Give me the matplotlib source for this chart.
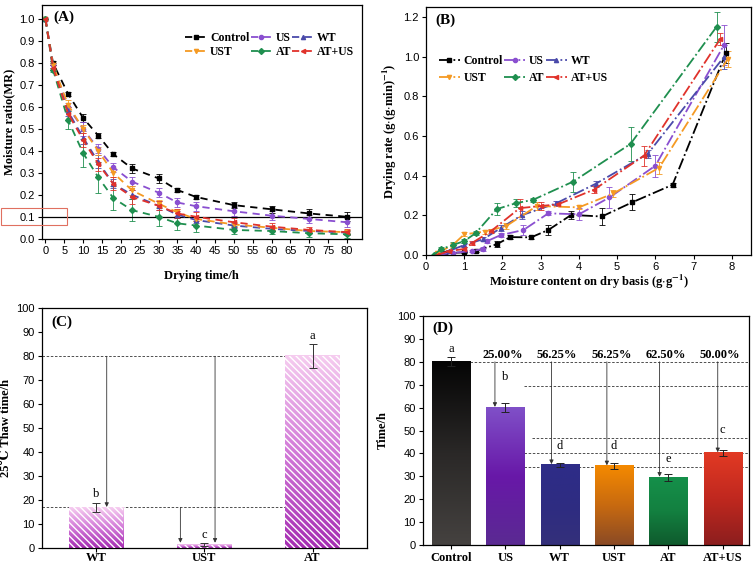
import numpy as np
import matplotlib.pyplot as plt
from matplotlib.colors import LinearSegmentedColormap
from matplotlib.patches import Rectangle

plt.rcParams['font.family'] = ['Liberation Serif', 'DejaVu Serif']
plt.rcParams['mathtext.fontset'] = 'stix'
plt.rcParams['hatch.linewidth'] = 1.0

names = ['Control', 'US', 'WT', 'UST', 'AT', 'AT+US']
colors = ['#000000', '#8a4fd0', '#4a4aaa', '#f59a23', '#1f8f4f', '#e0322b']
markers = ['s', 'o', '^', 'v', 'D', '<']

# --- (A) moisture ratio vs drying time ---
t = [0, 2, 6, 10, 14, 18, 23, 30, 35, 40, 50, 60, 70, 80]
mr = {
    'Control': [1.0, 0.80, 0.66, 0.55, 0.47, 0.385, 0.32, 0.275, 0.222, 0.19, 0.153, 0.134, 0.115, 0.10],
    'US':      [1.0, 0.79, 0.60, 0.50, 0.41, 0.325, 0.26, 0.21, 0.165, 0.148, 0.125, 0.105, 0.09, 0.075],
    'WT':      [1.0, 0.78, 0.58, 0.46, 0.35, 0.25, 0.20, 0.15, 0.11, 0.085, 0.06, 0.045, 0.035, 0.028],
    'UST':     [1.0, 0.79, 0.61, 0.50, 0.40, 0.30, 0.22, 0.16, 0.12, 0.09, 0.065, 0.05, 0.035, 0.03],
    'AT':      [1.0, 0.77, 0.54, 0.39, 0.28, 0.185, 0.13, 0.10, 0.07, 0.06, 0.04, 0.035, 0.025, 0.02],
    'AT+US':   [1.0, 0.78, 0.57, 0.45, 0.34, 0.25, 0.19, 0.15, 0.115, 0.10, 0.075, 0.055, 0.04, 0.03],
}
mr_err = {
    'Control': [0, 0.01, 0.01, 0.02, 0.01, 0.01, 0.02, 0.02, 0.01, 0.01, 0.015, 0.015, 0.02, 0.02],
    'US':      [0, 0.01, 0.02, 0.03, 0.02, 0.02, 0.02, 0.02, 0.02, 0.02, 0.02, 0.02, 0.02, 0.02],
    'WT':      [0, 0.01, 0.02, 0.03, 0.03, 0.02, 0.02, 0.02, 0.015, 0.015, 0.01, 0.01, 0.01, 0.01],
    'UST':     [0, 0.01, 0.02, 0.02, 0.02, 0.02, 0.02, 0.015, 0.015, 0.01, 0.01, 0.01, 0.01, 0.01],
    'AT':      [0, 0.01, 0.04, 0.065, 0.07, 0.055, 0.05, 0.04, 0.03, 0.03, 0.02, 0.015, 0.015, 0.015],
    'AT+US':   [0, 0.01, 0.03, 0.03, 0.03, 0.03, 0.03, 0.02, 0.02, 0.02, 0.02, 0.015, 0.015, 0.015],
}

# --- (B) drying rate vs moisture content ---
mc = {
    'Control': [0.3, 0.5, 1.0, 1.3, 1.85, 2.2, 2.75, 3.2, 3.8, 4.6, 5.4, 6.45, 7.85],
    'US':      [0.3, 0.7, 1.2, 1.5, 1.6, 1.95, 2.55, 3.2, 4.0, 4.8, 6.0, 7.8],
    'WT':      [0.2, 0.6, 1.0, 1.5, 1.95, 2.5, 3.4, 4.45, 5.8, 7.8],
    'UST':     [0.3, 0.7, 1.0, 1.55, 2.1, 2.9, 4.0, 4.9, 6.1, 7.9],
    'AT':      [0.2, 0.4, 0.7, 1.0, 1.3, 1.85, 2.35, 2.8, 3.85, 5.35, 7.6],
    'AT+US':   [0.3, 0.6, 1.0, 1.2, 1.7, 2.45, 3.0, 3.45, 4.4, 5.7, 7.7],
}
dr = {
    'Control': [0.0, 0.01, 0.013, 0.02, 0.054, 0.09, 0.089, 0.126, 0.202, 0.194, 0.266, 0.354, 1.02],
    'US':      [0.0, 0.01, 0.02, 0.03, 0.07, 0.10, 0.126, 0.21, 0.205, 0.29, 0.45, 1.06],
    'WT':      [0.0, 0.02, 0.05, 0.08, 0.135, 0.20, 0.26, 0.36, 0.51, 1.0],
    'UST':     [0.01, 0.05, 0.104, 0.118, 0.146, 0.247, 0.24, 0.31, 0.44, 0.99],
    'AT':      [0.0, 0.03, 0.05, 0.07, 0.11, 0.231, 0.261, 0.278, 0.37, 0.56, 1.15],
    'AT+US':   [0.0, 0.02, 0.03, 0.06, 0.12, 0.236, 0.247, 0.255, 0.33, 0.50, 1.09],
}
dr_err = {
    'Control': [0, 0, 0.005, 0.005, 0.015, 0.01, 0.008, 0.025, 0.02, 0.045, 0.04, 0.01, 0.05],
    'US':      [0, 0, 0.005, 0.01, 0.01, 0.01, 0.025, 0.01, 0.03, 0.055, 0.055, 0.1],
    'WT':      [0, 0.005, 0.01, 0.01, 0.015, 0.02, 0.01, 0.015, 0.02, 0.06],
    'UST':     [0, 0.01, 0.01, 0.01, 0.015, 0.02, 0.01, 0.02, 0.03, 0.04],
    'AT':      [0, 0.01, 0.015, 0.01, 0.01, 0.03, 0.02, 0.01, 0.05, 0.085, 0.075],
    'AT+US':   [0, 0.005, 0.01, 0.01, 0.01, 0.045, 0.02, 0.01, 0.02, 0.05, 0.03],
}

# --- (C) thaw time ---
c_cats = ['WT', 'UST', 'AT']
c_vals = [17, 1.5, 80]
c_err = [2, 0.7, 5]
c_letters = ['b', 'c', 'a']

# --- (D) drying time ---
d_cats = ['Control', 'US', 'WT', 'UST', 'AT', 'AT+US']
d_vals = [80, 60, 35, 34.5, 29.5, 40.2]
d_err = [2, 2, 1, 1.5, 1.5, 1.5]
d_letters = ['a', 'b', 'd', 'd', 'e', 'c']
d_pct = ['25.00%', '56.25%', '56.25%', '62.50%', '50.00%']
d_levels = [80, 69.3, 46.6, 40.0, 33.9]

d_grad = [
    ['#454240', '#2a2827', '#050505'],
    ['#5a2a92', '#6818a8', '#8050c8'],
    ['#34307a', '#2e2c82', '#2e2d88'],
    ['#8a4a25', '#c86a10', '#f58a00'],
    ['#0f5a2d', '#138040', '#15904a'],
    ['#8c1e1e', '#c0281f', '#e23a24'],
]

fig = plt.figure(figsize=(7.53, 5.65), dpi=100)
axA = fig.add_axes([0.0554, 0.5775, 0.4253, 0.4137])
axB = fig.add_axes([0.5657, 0.5487, 0.4316, 0.4389])
axC = fig.add_axes([0.0554, 0.0296, 0.4316, 0.4248])
axD = fig.add_axes([0.5613, 0.0354, 0.4330, 0.4053])

for ax in [axA, axB, axC, axD]:
    ax.tick_params(direction='out', length=3, width=0.8, labelsize=8,
                   labelfontfamily='Liberation Sans', pad=2)
    for s in ax.spines.values():
        s.set_linewidth(0.9)

leg_kw = dict(ncol=3, frameon=False, prop={'weight': 'bold', 'size': 8.5},
              columnspacing=0.1, handletextpad=0.3, handlelength=1.8,
              borderaxespad=0)
order = ['Control', 'UST', 'US', 'AT', 'WT', 'AT+US']

# A
handles = {}
for n, c, m in zip(names, colors, markers):
    h = axA.errorbar(t, mr[n], yerr=mr_err[n], color=c, ls='--', dashes=(4, 3), lw=1.3,
                     marker=m, ms=3.0, capsize=2, elinewidth=0.6, capthick=0.6,
                     ecolor=c, label=n)
    handles[n] = h[0]
axA.axhline(0.1, color='black', lw=0.9)
axA.set_xlim(-1, 84)
axA.set_ylim(0, 1.065)
axA.set_xticks(np.arange(0, 81, 5))
axA.set_yticks(np.arange(0, 1.01, 0.1))
axA.set_xlabel('Drying time/h', fontsize=9, fontweight='bold', labelpad=10)
axA.set_ylabel('Moisture ratio(MR)', fontsize=9, fontweight='bold', labelpad=3)
axA.text(0.035, 0.975, '(A)', transform=axA.transAxes, fontsize=11,
         fontweight='bold', va='top')
axA.legend([handles[k] for k in order], order, loc='upper right',
           bbox_to_anchor=(0.99, 0.905), labelspacing=0.15, **leg_kw)
fig.patches.append(Rectangle((1 / 753, 1 - 225 / 565), 66 / 753, 17 / 565,
                             transform=fig.transFigure, fill=False,
                             edgecolor='#e07060', lw=0.8))

# B
handles = {}
for n, c, m in zip(names, colors, markers):
    h = axB.errorbar(mc[n], dr[n], yerr=dr_err[n], color=c, ls='-.', lw=1.3,
                     marker=m, ms=3.0, capsize=2, elinewidth=0.6, capthick=0.6,
                     ecolor=c, label=n)
    handles[n] = h[0]
axB.set_xlim(0, 8.5)
axB.set_ylim(0, 1.25)
axB.set_xticks(np.arange(0, 9, 1))
axB.set_yticks(np.arange(0, 1.21, 0.2))
axB.set_xlabel(r'Moisture content on dry basis (g$\cdot$g$^{\mathbf{-1}}$)',
               fontsize=9, fontweight='bold', labelpad=1)
axB.set_ylabel(r'Drying rate (g$\cdot$(g$\cdot$min)$^{\mathbf{-1}}$)',
               fontsize=9, fontweight='bold', labelpad=3)
axB.text(0.03, 0.975, '(B)', transform=axB.transAxes, fontsize=11,
         fontweight='bold', va='top')
axB.legend([handles[k] for k in order], order, loc='upper left',
           bbox_to_anchor=(0.025, 0.825), labelspacing=0.45, **leg_kw)

# C
xc = np.arange(1, len(c_cats) + 1)
cmapC = LinearSegmentedColormap.from_list('pc', ['#a52cb2', '#d27ad8', '#f6cdf0'])
grad = np.linspace(0, 1, 256).reshape(-1, 1)
bars = axC.bar(xc, c_vals, 0.5, color='none', edgecolor='none')
for p in bars:
    axC.imshow(grad, cmap=cmapC, origin='lower', aspect='auto', zorder=2,
               extent=[p.get_x(), p.get_x() + p.get_width(), 0, p.get_height()])
axC.bar(xc, c_vals, 0.5, fill=False, hatch='\\\\\\\\\\', edgecolor='white',
        lw=0, zorder=3)
axC.errorbar(xc, c_vals, yerr=c_err, fmt='none', ecolor='#333333',
             elinewidth=0.7, capsize=3, capthick=0.7, zorder=4)
for x, v, e, l in zip(xc, c_vals, c_err, c_letters):
    axC.text(x, v + e + 1, l, ha='center', va='bottom', fontsize=9)
axC.plot([0.5, 2.75], [80, 80], color='#333333', ls=(0, (3, 2)), lw=0.6, zorder=1)
axC.plot([0.5, 2.75], [17, 17], color='#333333', ls=(0, (3, 2)), lw=0.6, zorder=1)
arr = dict(arrowstyle='-|>', color='#333333', lw=0.6, mutation_scale=6,
           shrinkA=0, shrinkB=0)
axC.annotate('', xy=(1.1, 17.2), xytext=(1.1, 80), arrowprops=arr, zorder=5)
axC.annotate('', xy=(1.78, 2.3), xytext=(1.78, 17), arrowprops=arr, zorder=5)
axC.annotate('', xy=(2.1, 2.3), xytext=(2.1, 80), arrowprops=arr, zorder=5)
axC.set_xlim(0.5, 3.5)
axC.set_ylim(0, 100)
axC.set_yticks(np.arange(0, 101, 10))
axC.set_xticks(xc)
axC.set_xticklabels(c_cats, fontsize=9, fontweight='bold',
                    fontfamily='Liberation Serif')
axC.tick_params(axis='x', pad=0)
axC.set_ylabel('25℃ Thaw time/h', fontsize=9, fontweight='bold', labelpad=3)
axC.text(0.03, 0.97, '(C)', transform=axC.transAxes, fontsize=11,
         fontweight='bold', va='top')

# D
xd = np.arange(len(d_cats))
bars = axD.bar(xd, d_vals, 0.7, color='none', edgecolor='none')
for p, g in zip(bars, d_grad):
    cm = LinearSegmentedColormap.from_list('g', g)
    axD.imshow(grad, cmap=cm, origin='lower', aspect='auto', zorder=2,
               extent=[p.get_x(), p.get_x() + p.get_width(), 0, p.get_height()])
axD.errorbar(xd, d_vals, yerr=d_err, fmt='none', ecolor='#222222',
             elinewidth=0.7, capsize=3, capthick=0.7, zorder=4)
lvl_start = [0.35, 1.35, 1.5, 1.35, 1.35]
for lv, xs in zip(d_levels, lvl_start):
    axD.plot([xs, 5.5], [lv, lv], color='#333333', ls=(0, (3, 2)), lw=0.6, zorder=1)
arrow_x = [0.81, 1.85, 2.87, 3.84, 4.91]
for x, xa, v, pct in zip(xd[1:], arrow_x, d_vals[1:], d_pct):
    axD.annotate('', xy=(xa, v + 0.3), xytext=(xa, 80), arrowprops=arr, zorder=5)
    axD.text(x - 0.05, 80.5, pct, ha='center', va='bottom', fontsize=9,
             fontweight='bold')
let_pos = [(0, 85.5), (1.0, 73.2), (2.0, 43.4), (3.0, 43.4), (4.0, 37.6), (5.0, 50.2)]
for (x, y), l in zip(let_pos, d_letters):
    axD.text(x, y, l, ha='center', va='center', fontsize=9)
axD.set_xlim(-0.52, 5.48)
axD.set_ylim(0, 100)
axD.set_yticks(np.arange(0, 101, 10))
axD.set_xticks(xd)
axD.set_xticklabels(d_cats, fontsize=9, fontweight='bold',
                    fontfamily='Liberation Serif')
axD.set_ylabel('Time/h', fontsize=9, fontweight='bold', labelpad=6)
axD.text(0.03, 0.975, '(D)', transform=axD.transAxes, fontsize=11,
         fontweight='bold', va='top')

fig.savefig('out.png', dpi=100)
